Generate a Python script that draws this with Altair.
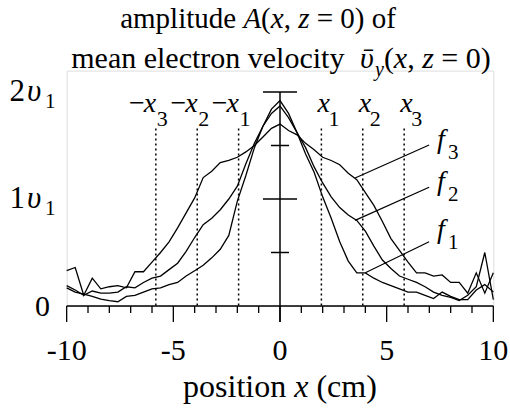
import altair as alt
import pandas as pd

FONT = "Liberation Serif, DejaVu Serif, serif"

# ---------------- data ----------------
x_cm = [-10.0, -9.6, -9.2, -8.8, -8.4, -8.0, -7.6, -7.2, -6.8, -6.4,
        -6.0, -5.6, -5.2, -4.8, -4.4, -4.0, -3.6, -3.2, -2.8, -2.4,
        -2.0, -1.6, -1.2, -0.8, -0.4, 0.0, 0.4, 0.8, 1.2, 1.6,
        2.0, 2.4, 2.8, 3.2, 3.6, 4.0, 4.4, 4.8, 5.2, 5.6,
        6.0, 6.4, 6.8, 7.2, 7.6, 8.0, 8.4, 8.8, 9.2, 9.6, 10.0]

f1 = [0.17, 0.13, 0.11, 0.09, 0.065, 0.05, 0.04, 0.09, 0.10, 0.13,
      0.16, 0.17, 0.20, 0.22, 0.28, 0.33, 0.38, 0.45, 0.53, 0.66,
      0.98, 1.22, 1.48, 1.68, 1.84, 1.92, 1.80, 1.62, 1.42, 1.25,
      1.02, 0.82, 0.60, 0.42, 0.31, 0.31, 0.26, 0.22, 0.19, 0.16,
      0.13, 0.13, 0.10, 0.07, 0.13, 0.09, 0.06, 0.06, 0.15, 0.20, 0.13]

f2 = [0.19, 0.15, 0.10, 0.14, 0.12, 0.12, 0.13, 0.18, 0.17, 0.22,
      0.26, 0.28, 0.34, 0.40, 0.51, 0.64, 0.76, 0.82, 0.90, 1.00,
      1.12, 1.33, 1.52, 1.68, 1.80, 1.87, 1.76, 1.62, 1.48, 1.30,
      1.15, 1.02, 0.92, 0.85, 0.80, 0.70, 0.56, 0.43, 0.35, 0.28,
      0.25, 0.22, 0.18, 0.13, 0.10, 0.08, 0.05, 0.10, 0.18, 0.50, 0.06]

f3 = [0.33, 0.36, 0.10, 0.26, 0.16, 0.18, 0.19, 0.17, 0.32, 0.32,
      0.41, 0.50, 0.60, 0.73, 0.87, 1.01, 1.20, 1.26, 1.34, 1.36,
      1.39, 1.44, 1.50, 1.58, 1.66, 1.70, 1.64, 1.60, 1.52, 1.46,
      1.39, 1.36, 1.32, 1.24, 1.18, 1.06, 0.94, 0.79, 0.63, 0.52,
      0.41, 0.31, 0.31, 0.28, 0.29, 0.22, 0.22, 0.12, 0.31, 0.12, 0.31]

curve_names = ["f1", "f2", "f3"]

marker_neg = [-5.82, -3.88, -1.94]
marker_neg_sub = ["3", "2", "1"]
marker_pos = [1.94, 3.88, 5.82]
marker_pos_sub = ["1", "2", "3"]
marker_top = 1.66

x_min, x_max = -10, 10
x_tick_major = [-10, -5, 0, 5, 10]
x_tick_labels = ["-10", "-5", "0", "5", "10"]
x_tick_minor = [-9, -8, -7, -6, -4, -3, -2, -1, 1, 2, 3, 4, 6, 7, 8, 9]

center_long = [1.0, 2.0]
center_short = [0.5, 1.5]
axis_top = 2.0

y_label_vals = [1, 2]
y_label_digits = ["1", "2"]
y_zero = [0]

f_label_sub = ["1", "2", "3"]
f_label_x = [7.36, 7.36, 7.36]
f_label_y = [0.636, 1.084, 1.477]
leader_x1 = [4.0, 3.52, 3.52]
leader_y1 = [0.31, 0.80, 1.196]
leader_x2 = [6.99, 6.99, 6.99]
leader_y2 = [0.60, 1.11, 1.505]

# ---------------- geometry ----------------
PAD_L = 66.67
PAD_R = 16.67
W = 510 - PAD_L - PAD_R
Y_MAX = 2.2
PX_V = 107.0
H = Y_MAX * PX_V
PAD_B = 414 - 306
PAD_T = 414 - PAD_B - H

xs = alt.Scale(domain=[-10, 10], nice=False, zero=False)
ys = alt.Scale(domain=[0, Y_MAX], nice=False, zero=False)


def X(f):
    return alt.X(f, scale=xs, axis=None)


def Y(f):
    return alt.Y(f, scale=ys, axis=None)


REG = {' ': 250, 'a': 444, 'b': 500, 'c': 444, 'd': 500, 'e': 444, 'f': 333,
       'g': 500, 'h': 500, 'i': 278, 'l': 278, 'm': 778, 'n': 500, 'o': 500,
       'p': 500, 'r': 333, 's': 389, 't': 278, 'u': 500, 'v': 500, 'y': 500,
       'x': 500, '(': 333, ')': 333, ',': 250, '=': 564, '0': 500, '-': 333}
ITA = {'A': 611, 'x': 444, 'z': 389, 'y': 444, 'f': 278, 'υ': 500, 'ῡ': 500}

one = pd.DataFrame({"k": [0]})


def text_width(txt, size, italic):
    tab = ITA if italic else REG
    return sum(tab.get(ch, 500) for ch in txt) * size / 1000.0


def seg(txt, x_abs, y_abs, size, italic=False, align="left"):
    # Vega trims text, so leading spaces become an x shift
    lead = len(txt) - len(txt.lstrip(" "))
    x_abs += lead * 250 * size / 1000.0
    return alt.Chart(one).mark_text(
        text=txt.strip(), font=FONT, fontSize=size,
        fontStyle="italic" if italic else "normal",
        align=align, baseline="alphabetic", color="black",
    ).encode(x=alt.value(x_abs - PAD_L), y=alt.value(y_abs - PAD_T))


def rich(parts, cx_abs, y_abs, gap=0.0):
    total = sum(text_width(t, s, it) for t, s, it, _ in parts) + gap
    x = cx_abs - total / 2
    out = []
    for t, s, it, dy in parts:
        if t == "ῡ":
            x += gap
        out.append(seg(t, x, y_abs + dy, s, it))
        x += text_width(t, s, it)
    return out


# ---------------- layers ----------------
rows = []
for name, vals in zip(curve_names, [f1, f2, f3]):
    for xv, vv in zip(x_cm, vals):
        rows.append({"x": xv, "v": vv, "curve": name})
df_curves = pd.DataFrame(rows)

curves = alt.Chart(df_curves).mark_line(color="black", strokeWidth=1.3).encode(
    x=X("x:Q"), y=Y("v:Q"), detail="curve:N",
)

df_markers = pd.DataFrame({"x": marker_neg + marker_pos, "top": [marker_top] * 6})
dotted = alt.Chart(df_markers).mark_rule(
    color="black", strokeWidth=1.5, strokeDash=[2, 3]
).encode(x=X("x:Q"), y=Y("top:Q"), y2=alt.value(H))

axis_line = alt.Chart(pd.DataFrame({"a": [x_min], "b": [x_max]})).mark_rule(
    color="black", strokeWidth=1.5
).encode(x=X("a:Q"), x2="b:Q", y=alt.value(H))

minor = alt.Chart(pd.DataFrame({"x": x_tick_minor})).mark_rule(
    color="black", strokeWidth=1.3
).encode(x=X("x:Q"), y=alt.value(H), y2=alt.value(H + 7))

major = alt.Chart(pd.DataFrame({"x": x_tick_major})).mark_rule(
    color="black", strokeWidth=1.3
).encode(x=X("x:Q"), y=alt.value(H), y2=alt.value(H + 16))

center = alt.Chart(pd.DataFrame({"x": [0], "v": [axis_top]})).mark_rule(
    color="black", strokeWidth=1.5
).encode(x=X("x:Q"), y=Y("v:Q"), y2=alt.value(H + 16))

c_long = alt.Chart(pd.DataFrame({"v": center_long})).mark_rule(
    color="black", strokeWidth=1.5
).encode(x=alt.value(W / 2 - 17), x2=alt.value(W / 2 + 17), y=Y("v:Q"))

c_short = alt.Chart(pd.DataFrame({"v": center_short})).mark_rule(
    color="black", strokeWidth=1.5
).encode(x=alt.value(W / 2 - 9), x2=alt.value(W / 2 + 9), y=Y("v:Q"))

df_xt = pd.DataFrame({"x": x_tick_major, "lab": x_tick_labels})
xt_labels = alt.Chart(df_xt).mark_text(
    font=FONT, fontSize=30, baseline="alphabetic", align="center", color="black"
).encode(x=X("x:Q"), y=alt.value(H + 54), text="lab:N")

# y labels
zero_lab = alt.Chart(pd.DataFrame({"v": y_zero})).mark_text(
    text="0", font=FONT, fontSize=30, align="right", baseline="alphabetic",
    color="black", dy=10
).encode(x=alt.value(50 - PAD_L), y=Y("v:Q"))

df_yl = pd.DataFrame({"v": y_label_vals, "d": y_label_digits})
yl_digit = alt.Chart(df_yl).mark_text(
    font=FONT, fontSize=31, align="right", baseline="alphabetic", color="black", dy=9
).encode(x=alt.value(25 - PAD_L), y=Y("v:Q"), text="d:N")
yl_ups = alt.Chart(df_yl).mark_text(
    text="υ", font=FONT, fontSize=31, fontStyle="italic", align="left",
    baseline="alphabetic", color="black", dy=9
).encode(x=alt.value(27 - PAD_L), y=Y("v:Q"))
yl_sub = alt.Chart(df_yl).mark_text(
    text="1", font=FONT, fontSize=21, align="left",
    baseline="alphabetic", color="black", dy=16
).encode(x=alt.value(45 - PAD_L), y=Y("v:Q"))

# marker labels (−x_k, x_k)
df_neg = pd.DataFrame({"x": marker_neg, "s": marker_neg_sub})
df_pos = pd.DataFrame({"x": marker_pos, "s": marker_pos_sub})
MY = 112 - PAD_T
neg_minus = alt.Chart(df_neg).mark_text(
    text="−", font=FONT, fontSize=28, align="right", baseline="alphabetic", dx=-11, color="black"
).encode(x=X("x:Q"), y=alt.value(MY))
neg_x = alt.Chart(df_neg).mark_text(
    text="x", font=FONT, fontSize=28, fontStyle="italic", align="left",
    baseline="alphabetic", dx=-12, color="black"
).encode(x=X("x:Q"), y=alt.value(MY))
neg_s = alt.Chart(df_neg).mark_text(
    font=FONT, fontSize=22, align="left", baseline="alphabetic", dx=1, color="black"
).encode(x=X("x:Q"), y=alt.value(MY + 14), text="s:N")
pos_x = alt.Chart(df_pos).mark_text(
    text="x", font=FONT, fontSize=28, fontStyle="italic", align="left",
    baseline="alphabetic", dx=-4, color="black"
).encode(x=X("x:Q"), y=alt.value(MY))
pos_s = alt.Chart(df_pos).mark_text(
    font=FONT, fontSize=22, align="left", baseline="alphabetic", dx=7, color="black"
).encode(x=X("x:Q"), y=alt.value(MY + 14), text="s:N")

# curve labels
df_f = pd.DataFrame({"lx": f_label_x, "ly": f_label_y, "s": f_label_sub})
f_main = alt.Chart(df_f).mark_text(
    text="f", font=FONT, fontSize=28, fontStyle="italic", align="left",
    baseline="alphabetic", color="black"
).encode(x=X("lx:Q"), y=Y("ly:Q"))
f_sub = alt.Chart(df_f).mark_text(
    font=FONT, fontSize=21, align="left", baseline="alphabetic", dx=11, dy=11, color="black"
).encode(x=X("lx:Q"), y=Y("ly:Q"), text="s:N")

df_lead = pd.DataFrame({"x1": leader_x1, "y1": leader_y1, "x2": leader_x2, "y2": leader_y2})
leaders = alt.Chart(df_lead).mark_rule(color="black", strokeWidth=1.2).encode(
    x=X("x1:Q"), y=Y("y1:Q"), x2="x2:Q", y2="y2:Q"
)

# titles
title1 = rich([("amplitude ", 29, False, 0), ("A", 29, True, 0), ("(", 29, False, 0),
               ("x", 29, True, 0), (", ", 29, False, 0), ("z", 29, True, 0),
               (" = 0) of", 29, False, 0)], 258, 28)
title2 = rich([("mean electron velocity ", 30, False, 0), ("ῡ", 30, True, 0),
               ("y", 20, True, 8), ("(", 30, False, 0), ("x", 30, True, 0),
               (", ", 30, False, 0), ("z", 30, True, 0), (" = 0)", 30, False, 0)],
              281, 68, gap=8)
xtitle = rich([("position ", 32, False, 0), ("x", 32, True, 0), (" (cm)", 32, False, 0)],
              280, 397)

layers = [dotted, curves, axis_line, minor, major, center, c_long, c_short, xt_labels,
          zero_lab, yl_digit, yl_ups, yl_sub, neg_minus, neg_x, neg_s, pos_x, pos_s,
          f_main, f_sub, leaders] + title1 + title2 + xtitle

chart = alt.layer(*layers).properties(
    width=W, height=H,
    autosize=alt.AutoSizeParams(type="none"),
    padding={"left": PAD_L, "right": PAD_R, "top": PAD_T, "bottom": PAD_B},
    background="white",
).configure_view(strokeWidth=0).configure(font=FONT)

chart.save("out.html", embed_options={"renderer": "svg", "actions": False})
